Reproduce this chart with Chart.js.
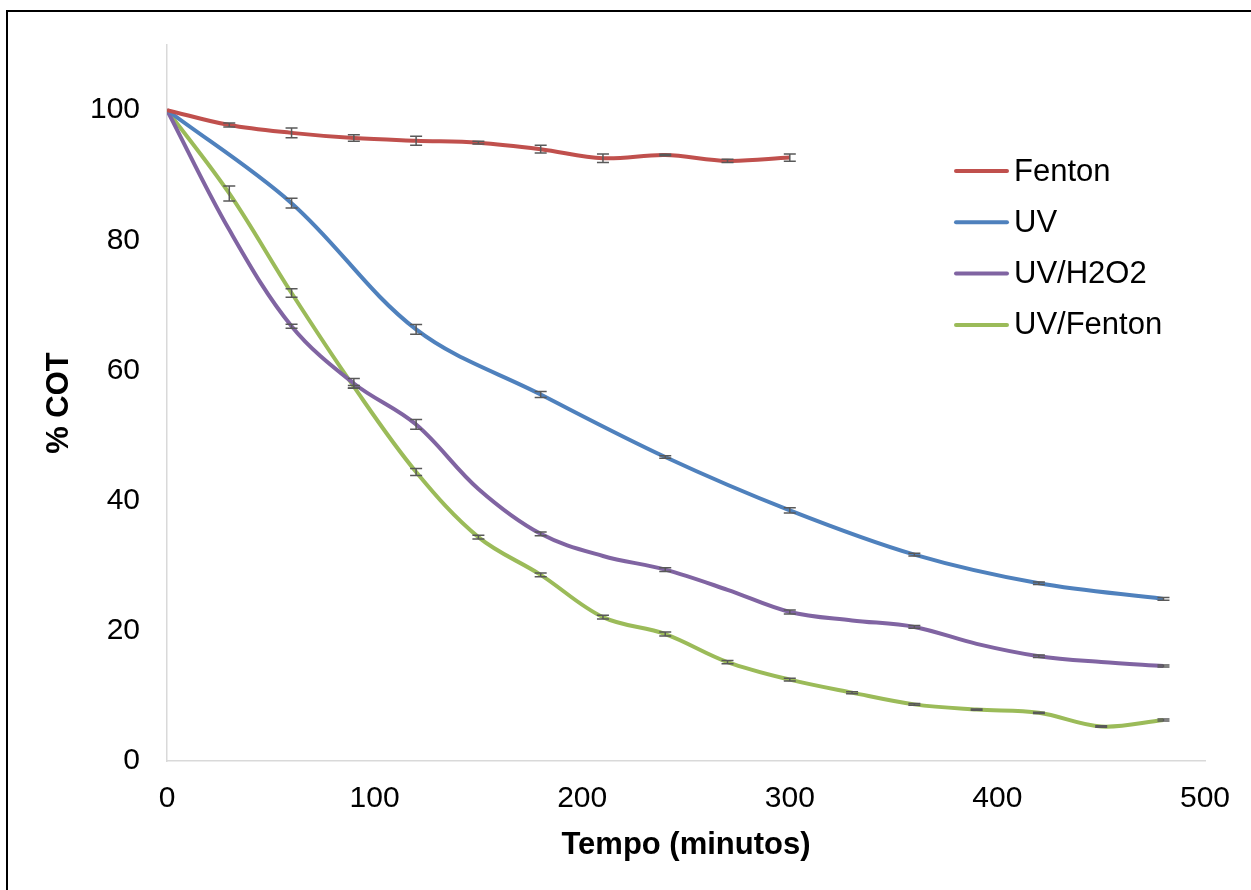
<!DOCTYPE html>
<html>
<head>
<meta charset="utf-8">
<script src="https://cdn.jsdelivr.net/npm/chart.js@4"></script>
<style>
  html, body { margin: 0; padding: 0; background: #fff; }
  #wrap { position: relative; width: 1251px; height: 890px; overflow: hidden; }
  #frame { position: absolute; left: 6px; top: 10px; width: 1300px; height: 950px; border: 2px solid #000; pointer-events: none; }
  canvas { position: absolute; left: 0; top: 0; }
</style>
</head>
<body>
<div id="wrap">
  <canvas id="cotChart" width="1251" height="890"></canvas>
  <div id="frame"></div>
</div>
<script>
// tick labels
const xTicks = [0, 100, 200, 300, 400, 500];
const yTicks = [0, 20, 40, 60, 80, 100];

// series names and colours
const seriesNames = ['Fenton', 'UV', 'UV/H2O2', 'UV/Fenton'];
const seriesColors = ['#C0504D', '#4F81BD', '#8064A2', '#9BBB59'];

// Fenton
const tFenton = [0, 30, 60, 90, 120, 150, 180, 210, 240, 270, 300];
const cotFenton = [100, 97.7, 96.5, 95.7, 95.3, 95.0, 94.0, 92.6, 93.1, 92.2, 92.7];
const errFenton = [0, 0.3, 0.75, 0.5, 0.7, 0.2, 0.6, 0.65, 0.1, 0.25, 0.55];

// UV
const tUV = [0, 60, 120, 180, 240, 300, 360, 420, 480];
const cotUV = [100, 85.7, 66.3, 56.3, 46.7, 38.5, 31.7, 27.3, 24.9];
const errUV = [0, 0.75, 0.75, 0.45, 0.2, 0.4, 0.2, 0.2, 0.2];

// UV/H2O2
const tH2O2 = [0, 30, 60, 90, 120, 150, 180, 210, 240, 270, 300, 330, 360, 390, 420, 450, 480];
const cotH2O2 = [100, 81.6, 66.8, 58.0, 51.7, 41.8, 34.9, 31.5, 29.4, 26.3, 22.9, 21.6, 20.6, 18.0, 16.1, 15.2, 14.6];
const errH2O2 = [0, 0, 0.3, 0.75, 0.75, 0, 0.3, 0, 0.3, 0, 0.3, 0, 0.2, 0, 0.2, 0, 0.15];

// UV/Fenton
const tUVFenton = [0, 30, 60, 90, 120, 150, 180, 210, 240, 270, 300, 330, 360, 390, 420, 450, 480];
const cotUVFenton = [100, 87.2, 71.9, 57.5, 44.4, 34.4, 28.6, 22.1, 19.5, 15.2, 12.5, 10.5, 8.7, 7.9, 7.4, 5.3, 6.3];
const errUVFenton = [0, 1.15, 0.65, 0.2, 0.55, 0.3, 0.3, 0.3, 0.3, 0.25, 0.2, 0.15, 0.15, 0.1, 0.1, 0.1, 0.15];

const allT = [tFenton, tUV, tH2O2, tUVFenton];
const allCot = [cotFenton, cotUV, cotH2O2, cotUVFenton];
const allErr = [errFenton, errUV, errH2O2, errUVFenton];

const fontFamily = '"Liberation Sans", Arial, sans-serif';

const datasets = seriesNames.map((name, i) => ({
    label: name,
    data: allT[i].map((t, j) => ({ x: t, y: allCot[i][j] })),
    borderColor: seriesColors[i],
    backgroundColor: seriesColors[i],
    borderWidth: 4,
    pointRadius: 0,
    tension: 0.35,
    fill: false
}));

// error bars drawn through the scales
const errorBars = {
    id: 'errorBars',
    afterDatasetsDraw(chart) {
        const ctx = chart.ctx;
        const xs = chart.scales.x, ys = chart.scales.y;
        ctx.save();
        ctx.strokeStyle = '#595959';
        ctx.lineWidth = 1.5;
        allT.forEach((ts, i) => {
            ts.forEach((t, j) => {
                const e = allErr[i][j];
                if (!e) return;
                const px = xs.getPixelForValue(t);
                const top = ys.getPixelForValue(allCot[i][j] + e);
                const bot = ys.getPixelForValue(allCot[i][j] - e);
                ctx.beginPath();
                ctx.moveTo(px, top); ctx.lineTo(px, bot);
                ctx.moveTo(px - 6, top); ctx.lineTo(px + 6, top);
                ctx.moveTo(px - 6, bot); ctx.lineTo(px + 6, bot);
                ctx.stroke();
            });
        });
        ctx.restore();
    }
};

// legend sitting inside the plot, like the original
const insideLegend = {
    id: 'insideLegend',
    afterDraw(chart) {
        const ctx = chart.ctx;
        ctx.save();
        ctx.font = '31px ' + fontFamily;
        ctx.textBaseline = 'middle';
        ctx.fillStyle = '#000';
        seriesNames.forEach((name, i) => {
            const y = 171 + i * 51.3;
            ctx.strokeStyle = seriesColors[i];
            ctx.lineWidth = 4;
            ctx.lineCap = 'round';
            ctx.beginPath();
            ctx.moveTo(956, y); ctx.lineTo(1007, y);
            ctx.stroke();
            ctx.fillText(name, 1014, y + 1);
        });
        ctx.restore();
    }
};

new Chart(document.getElementById('cotChart'), {
    type: 'line',
    data: { datasets: datasets },
    plugins: [errorBars, insideLegend],
    options: {
        responsive: false,
        animation: false,
        layout: { padding: { top: 42, right: 46, left: 0, bottom: 0 } },
        plugins: { legend: { display: false }, tooltip: { enabled: false } },
        scales: {
            x: {
                type: 'linear',
                min: 0,
                max: 500,
                afterFit: (s) => { s.height = 129; },
                afterBuildTicks: (s) => { s.ticks = xTicks.map(v => ({ value: v })); },
                grid: { display: false, drawTicks: false },
                border: { display: true, color: '#d9d9d9', width: 1.5 },
                ticks: { color: '#000', padding: 20, maxRotation: 0, font: { family: fontFamily, size: 30 } },
                title: {
                    display: true,
                    text: 'Tempo (minutos)',
                    color: '#000',
                    padding: { top: 0, bottom: 26 },
                    font: { family: fontFamily, size: 31, weight: 'bold' }
                }
            },
            y: {
                min: 0,
                max: 110,
                afterFit: (s) => { s.width = 167; },
                afterBuildTicks: (s) => { s.ticks = yTicks.map(v => ({ value: v })); },
                grid: { display: false, drawTicks: false },
                border: { display: true, color: '#d9d9d9', width: 1.5 },
                ticks: { color: '#000', padding: 27, font: { family: fontFamily, size: 30 } },
                title: {
                    display: true,
                    text: '% COT',
                    color: '#000',
                    padding: { top: 41, bottom: 0 },
                    font: { family: fontFamily, size: 31, weight: 'bold' }
                }
            }
        }
    }
});
</script>
</body>
</html>
